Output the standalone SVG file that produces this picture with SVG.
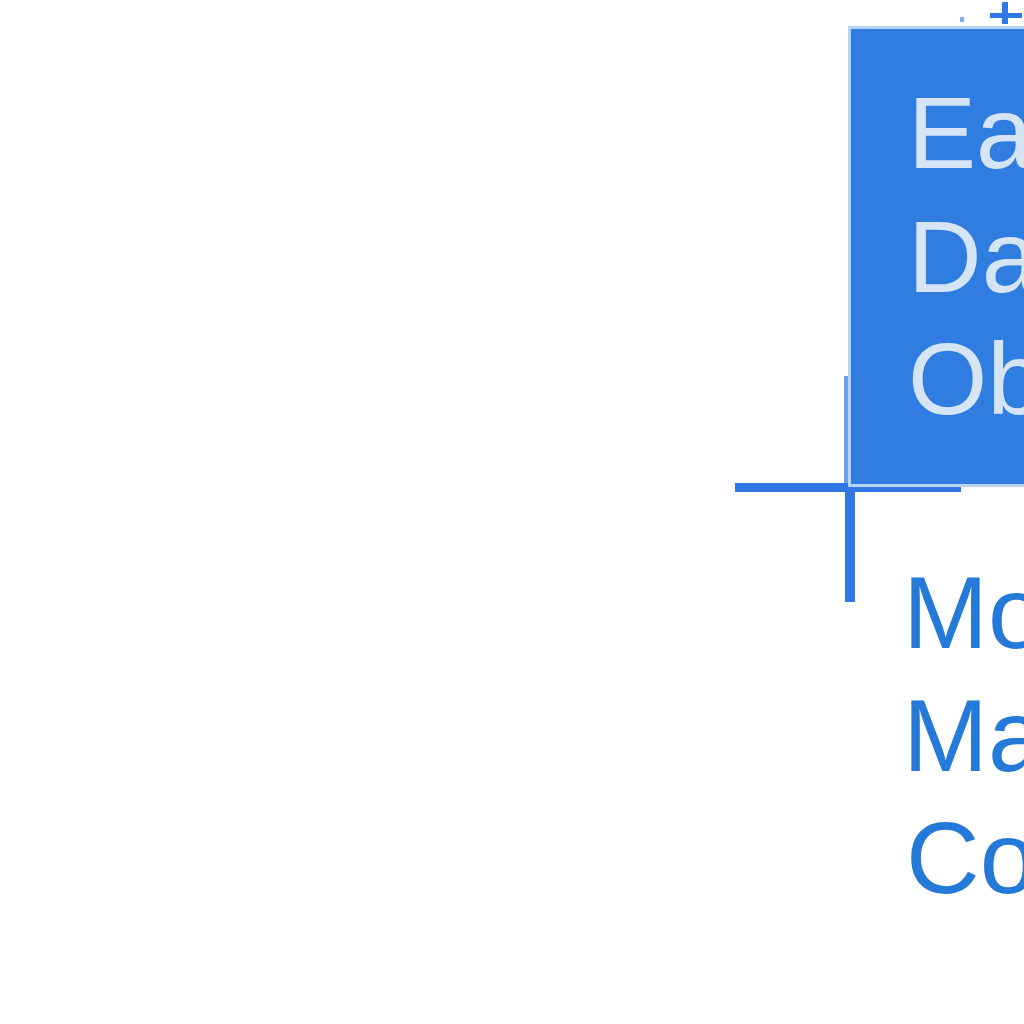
<svg xmlns="http://www.w3.org/2000/svg" width="1024" height="1024" viewBox="0 0 1024 1024">
<style>
.mark{fill:#2F78E6}
.inner{font-family:"Liberation Sans",Arial,sans-serif;font-size:102px;fill:#D6E5F5}
.outer{font-family:"Liberation Sans",Arial,sans-serif;font-size:102px;fill:#2479D9}
</style>
<rect width="1024" height="1024" fill="#FFFFFF"/>
<g id="connectors">
<rect class="mark" x="735" y="483" width="226" height="9"/>
<rect class="mark" x="844" y="376" width="4" height="112" opacity="0.7"/>
<rect class="mark" x="845" y="488" width="10" height="114"/>
<rect class="mark" x="990" y="13" width="32" height="5"/>
<rect class="mark" x="1002" y="2" width="6" height="22"/>
<rect x="960" y="17" width="4" height="5" fill="#7AAEF0"/>
</g>
<g id="node-data-object">
<rect x="849.5" y="27.5" width="180" height="458" fill="#2F7DE0" stroke="#B8D3F5" stroke-width="3"/>
<text class="inner" x="908" y="168">Ea</text>
<text class="inner" x="908" y="292">Da</text>
<text class="inner" x="908" y="414">Ob</text>
</g>
<g id="node-label">
<text class="outer" x="903" y="648">Mo</text>
<text class="outer" x="903" y="771">Ma</text>
<text class="outer" x="906" y="893">Co</text>
</g>
</svg>
